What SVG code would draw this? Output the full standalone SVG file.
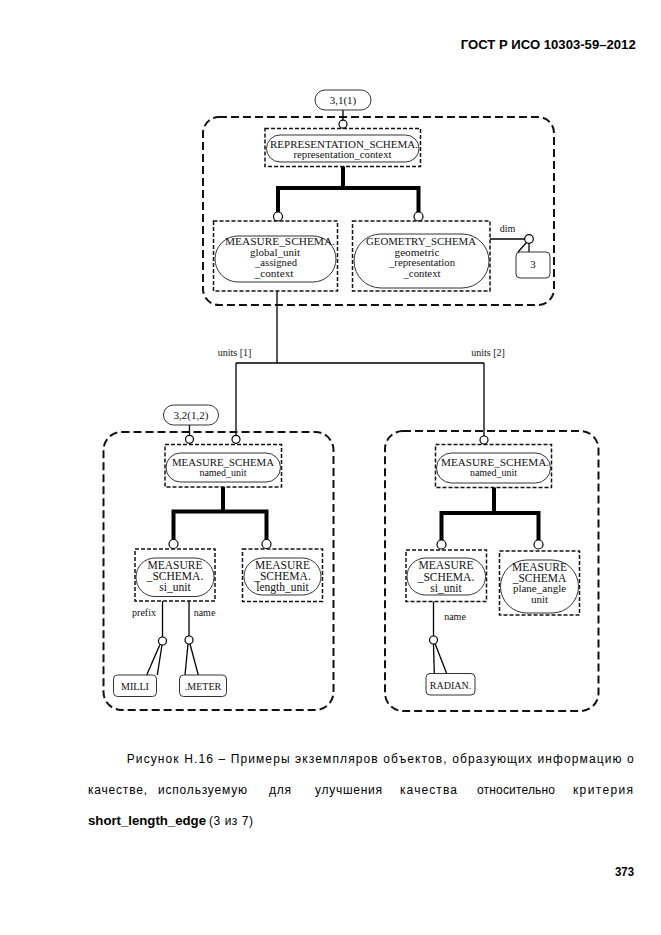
<svg xmlns="http://www.w3.org/2000/svg" width="661" height="935" viewBox="0 0 661 935">
<style>
.outer{fill:none;stroke:#111;stroke-width:2;stroke-dasharray:8 4}
.box{fill:none;stroke:#111;stroke-width:1.5;stroke-dasharray:4 2}
.pill{fill:#fff;stroke:#333;stroke-width:1}
.tag{fill:#fff;stroke:#333;stroke-width:1}
.t{font-family:"Liberation Serif","Times New Roman",serif;fill:#111;text-anchor:middle}
.s11{font-size:11px}
.s10{font-size:10px}
.s95{font-size:9.5px}
.s12{font-size:11.5px}
.thick{stroke:#000;stroke-width:4;fill:none}
.thin{stroke:#000;stroke-width:1.3;fill:none}
.dot{fill:#fff;stroke:#000;stroke-width:1.2}
.cap{font-family:"Liberation Sans",Arial,sans-serif;fill:#000;font-size:12px}
</style>
<rect width="661" height="935" fill="#fff"/>

<!-- header -->
<text class="cap" x="460.7" y="49" font-weight="bold" font-size="11.5" textLength="175" lengthAdjust="spacingAndGlyphs">ГОСТ Р ИСО 10303-59–2012</text>

<!-- outer dashed frames -->
<rect id="frame-top" class="outer" x="203" y="117" width="351" height="188" rx="16"/>
<rect id="frame-left" class="outer" x="103.5" y="432" width="230" height="278" rx="18"/>
<rect id="frame-right" class="outer" x="385" y="431" width="213.5" height="280" rx="18"/>

<!-- connectors -->
<g id="connectors">
  <line class="thin" x1="343" y1="110" x2="343" y2="120"/>
  <path class="thick" d="M343,166.5 V188 M276,188 H420.5 M278,188 V212 M418.5,188 V212"/>
  <line class="thin" x1="490" y1="239" x2="525" y2="239"/>
  <line class="thin" x1="526.5" y1="242.5" x2="518" y2="252"/>
  <line class="thin" x1="529" y1="243.3" x2="529" y2="252"/>
  <path class="thin" d="M277,291 V363 M236,363 H484 M236,363 V435.3 M484,363 V436"/>
  <line class="thin" x1="189.5" y1="425" x2="189.5" y2="435.3"/>
  <path class="thick" d="M223,487 V511.5 M171.5,511.5 H268.5 M173.5,511.5 V539.5 M266.5,511.5 V539.5"/>
  <line class="thin" x1="162.5" y1="601" x2="162.5" y2="637"/>
  <line class="thin" x1="189" y1="601" x2="189" y2="636"/>
  <line class="thin" x1="160" y1="644.5" x2="146.7" y2="675"/>
  <line class="thin" x1="162" y1="645" x2="157.3" y2="675"/>
  <line class="thin" x1="188" y1="644" x2="185" y2="675"/>
  <line class="thin" x1="190" y1="644" x2="198.3" y2="675"/>
  <path class="thick" d="M494,487.5 V513 M439.5,513 H540.5 M441.5,513 V540 M538.5,513 V540"/>
  <line class="thin" x1="433.5" y1="601.5" x2="433.5" y2="636"/>
  <line class="thin" x1="433.5" y1="644" x2="434.3" y2="673.5"/>
  <line class="thin" x1="435" y1="643.5" x2="446.7" y2="673.5"/>
  <text class="t s10" x="507.5" y="232">dim</text>
  <text class="t s10" x="234.5" y="355.5">units [1]</text>
  <text class="t s10" x="488" y="355.5">units [2]</text>
  <text class="t s10" x="144" y="615.5">prefix</text>
  <text class="t s10" x="204.5" y="615.5">name</text>
  <text class="t s10" x="455" y="619.5">name</text>
</g>

<!-- top group -->
<g id="ref-3-1-1">
  <rect class="tag" x="315" y="90" width="56" height="20" rx="10"/>
  <text class="t s11" x="343" y="104">3,1(1)</text>
  <circle class="dot" cx="343" cy="124.2" r="4"/>
</g>
<g id="representation-context">
  <rect class="box" x="265" y="128.5" width="155.5" height="38"/>
  <rect class="pill" x="266.5" y="135" width="152.5" height="27" rx="13.5"/>
  <text class="t s11" x="344" y="147.5" textLength="148" lengthAdjust="spacingAndGlyphs">REPRESENTATION_SCHEMA.</text>
  <text class="t s10" x="342.5" y="158" textLength="98" lengthAdjust="spacingAndGlyphs">representation_context</text>
  <circle class="dot" cx="278" cy="216.5" r="4.5"/>
  <circle class="dot" cx="418.5" cy="216.5" r="4.5"/>
</g>
<g id="global-unit-assigned-context">
  <rect class="box" x="213.5" y="221" width="124" height="70"/>
  <rect class="pill" x="215" y="236" width="121" height="46" rx="23"/>
  <text class="t s95" x="280" y="245" textLength="110" lengthAdjust="spacingAndGlyphs">MEASURE_SCHEMA.</text>
  <text class="t s95" x="275" y="255.5" textLength="50" lengthAdjust="spacingAndGlyphs">global_unit</text>
  <text class="t s95" x="276" y="266" textLength="42" lengthAdjust="spacingAndGlyphs">_assigned</text>
  <text class="t s95" x="274" y="276.5" textLength="39" lengthAdjust="spacingAndGlyphs">_context</text>
</g>
<g id="geometric-representation-context">
  <rect class="box" x="352.5" y="221" width="137.5" height="70"/>
  <rect class="pill" x="354" y="234" width="135" height="54" rx="27"/>
  <text class="t s95" x="421" y="245" textLength="110" lengthAdjust="spacingAndGlyphs">GEOMETRY_SCHEMA</text>
  <text class="t s95" x="417" y="255.5" textLength="45" lengthAdjust="spacingAndGlyphs">geometric</text>
  <text class="t s95" x="422" y="266" textLength="66" lengthAdjust="spacingAndGlyphs">_representation</text>
  <text class="t s95" x="422" y="276.5" textLength="37" lengthAdjust="spacingAndGlyphs">_context</text>
</g>
<g id="dim-3">
  <circle class="dot" cx="529" cy="239" r="4.3"/>
  <rect class="tag" x="516" y="252" width="34" height="26" rx="4"/>
  <text class="t s11" x="533" y="268">3</text>
</g>

<!-- bottom left -->
<g id="ref-3-2-1-2">
  <rect class="tag" x="163.5" y="405" width="55" height="20" rx="10"/>
  <text class="t s11" x="191" y="419">3,2(1,2)</text>
  <circle class="dot" cx="189.5" cy="439.3" r="4"/>
</g>
<g id="named-unit-1">
  <circle class="dot" cx="236" cy="439.3" r="4"/>
  <rect class="box" x="165" y="444.5" width="116.5" height="42.5"/>
  <rect class="pill" x="166" y="453" width="114.5" height="29" rx="14.5"/>
  <text class="t s10" x="223" y="465.5" textLength="102" lengthAdjust="spacingAndGlyphs">MEASURE_SCHEMA</text>
  <text class="t s10" x="223" y="475.5">named_unit</text>
  <circle class="dot" cx="173.5" cy="544" r="4.5"/>
  <circle class="dot" cx="266.5" cy="544" r="4.5"/>
</g>
<g id="si-unit-1">
  <rect class="box" x="135" y="549" width="80" height="52"/>
  <rect class="pill" x="136" y="558" width="78" height="38.5" rx="19"/>
  <text class="t s12" x="175" y="568.5">MEASURE</text>
  <text class="t s12" x="175" y="580">_SCHEMA.</text>
  <text class="t s12" x="175" y="591">si_unit</text>
  <circle class="dot" cx="162.5" cy="641" r="4"/>
  <circle class="dot" cx="189" cy="640" r="4"/>
</g>
<g id="length-unit">
  <rect class="box" x="242.5" y="549" width="80" height="52.5"/>
  <rect class="pill" x="244" y="558" width="77" height="37" rx="18.5"/>
  <text class="t s12" x="282.5" y="568.5">MEASURE</text>
  <text class="t s12" x="282.5" y="580">_SCHEMA.</text>
  <text class="t s12" x="282.5" y="591">length_unit</text>
</g>
<g id="milli">
  <rect class="tag" x="113.5" y="675" width="43" height="21.5" rx="4"/>
  <text class="t s10" x="135" y="690">MILLI</text>
</g>
<g id="meter">
  <rect class="tag" x="179.5" y="675" width="47" height="21.5" rx="4"/>
  <text class="t s10" x="203" y="690">.METER</text>
</g>

<!-- bottom right -->
<g id="named-unit-2">
  <circle class="dot" cx="484" cy="440" r="4"/>
  <rect class="box" x="435.5" y="444.5" width="116" height="43"/>
  <rect class="pill" x="436.5" y="453" width="114" height="30" rx="15"/>
  <text class="t s10" x="495" y="465.5" textLength="108" lengthAdjust="spacingAndGlyphs">MEASURE_SCHEMA.</text>
  <text class="t s10" x="493.5" y="476">named_unit</text>
  <circle class="dot" cx="441.5" cy="544.5" r="4.5"/>
  <circle class="dot" cx="538.5" cy="544.5" r="4.5"/>
</g>
<g id="si-unit-2">
  <rect class="box" x="406" y="550" width="80.5" height="51.5"/>
  <rect class="pill" x="407" y="558" width="78.5" height="37" rx="18.5"/>
  <text class="t s12" x="446" y="569">MEASURE</text>
  <text class="t s12" x="446" y="581">_SCHEMA.</text>
  <text class="t s12" x="446" y="592">si_unit</text>
  <circle class="dot" cx="433.5" cy="640" r="4"/>
</g>
<g id="plane-angle-unit">
  <rect class="box" x="499.5" y="551" width="80" height="64"/>
  <rect class="pill" x="500.5" y="560" width="78" height="53" rx="26.5"/>
  <text class="t s12" x="539.5" y="570.5">MEASURE</text>
  <text class="t s12" x="539.5" y="581.5">_SCHEMA</text>
  <text class="t s11" x="539.5" y="592">plane_angle</text>
  <text class="t s11" x="539.5" y="603">unit</text>
</g>
<g id="radian">
  <rect class="tag" x="426" y="673.5" width="49" height="21.5" rx="4"/>
  <text class="t s10" x="450.5" y="688.5">RADIAN.</text>
</g>

<!-- caption -->
<g id="caption">
  <text class="cap" x="126.7" y="763" textLength="507" lengthAdjust="spacing">Рисунок Н.16 – Примеры экземпляров объектов, образующих информацию о</text>
  <text class="cap" x="88" y="794" textLength="59" lengthAdjust="spacing">качестве,</text>
  <text class="cap" x="158" y="794" textLength="89" lengthAdjust="spacing">используемую</text>
  <text class="cap" x="269" y="794" letter-spacing="0.8">для</text>
  <text class="cap" x="315" y="794" textLength="67" lengthAdjust="spacing">улучшения</text>
  <text class="cap" x="400" y="794" textLength="57" lengthAdjust="spacing">качества</text>
  <text class="cap" x="477" y="794" textLength="78" lengthAdjust="spacing">относительно</text>
  <text class="cap" x="573" y="794" textLength="60" lengthAdjust="spacing">критерия</text>
  <text class="cap" x="88" y="825" font-weight="bold" textLength="118" lengthAdjust="spacingAndGlyphs">short_length_edge</text>
  <text class="cap" x="209" y="825" textLength="44" lengthAdjust="spacing">(3 из 7)</text>
</g>
<text class="cap" x="615" y="876" font-weight="bold" font-size="12" textLength="19" lengthAdjust="spacingAndGlyphs">373</text>
</svg>
